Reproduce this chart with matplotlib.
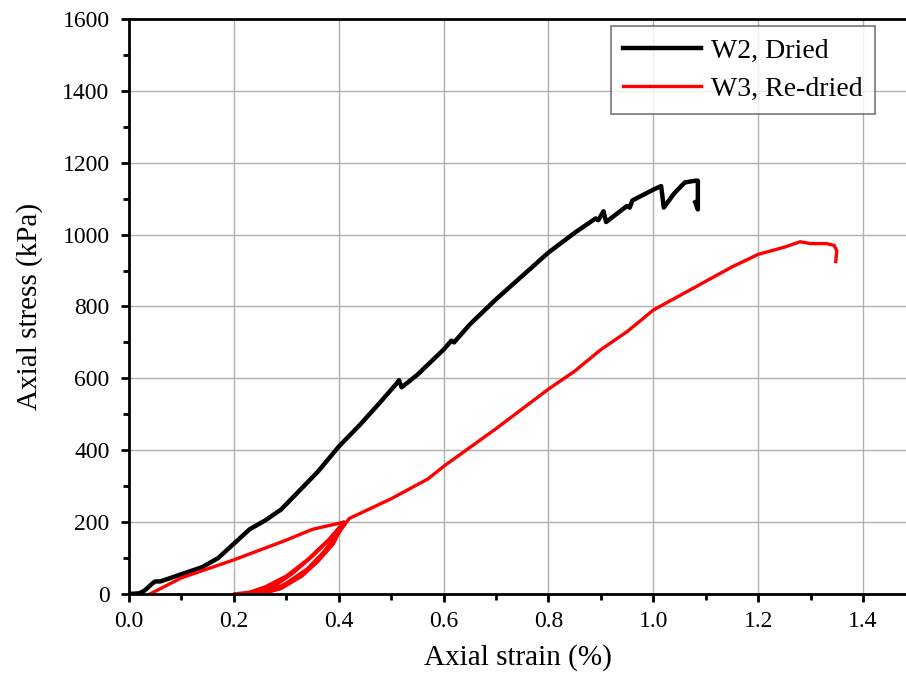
import numpy as np
import matplotlib.pyplot as plt
from matplotlib.ticker import MultipleLocator

plt.rcParams['font.family'] = ['Liberation Serif', 'DejaVu Serif']

# W2, Dried : axial strain (%) vs axial stress (kPa)
w2_strain = [0.0, 0.02, 0.03, 0.045, 0.05, 0.06, 0.08, 0.10, 0.14, 0.17, 0.20, 0.23,
             0.26, 0.29, 0.32, 0.36, 0.40, 0.44, 0.48, 0.51, 0.515, 0.52, 0.55, 0.60,
             0.615, 0.62, 0.65, 0.70, 0.75, 0.80, 0.85, 0.89, 0.895, 0.905, 0.91, 0.95,
             0.955, 0.96, 1.00, 1.015, 1.02, 1.04, 1.06, 1.08, 1.085, 1.085, 1.08]
w2_stress = [0, 2, 10, 30, 35, 35, 45, 55, 75, 100, 140, 180,
             205, 235, 280, 340, 410, 470, 535, 585, 595, 575, 610, 680,
             705, 700, 750, 820, 885, 950, 1005, 1045, 1040, 1065, 1035, 1080,
             1075, 1095, 1125, 1135, 1075, 1115, 1145, 1150, 1150, 1070, 1090]

# W3, Re-dried : loading, two unload/reload loops, then loading to failure
w3_strain = [0.04, 0.10, 0.20, 0.30, 0.35, 0.38, 0.41,
             0.38, 0.34, 0.30, 0.26, 0.23, 0.20,
             0.26, 0.29, 0.33, 0.36, 0.39, 0.41,
             0.385, 0.35, 0.31, 0.28, 0.255, 0.24,
             0.27, 0.30, 0.34, 0.37, 0.40, 0.42,
             0.50, 0.57, 0.60, 0.70, 0.80, 0.85, 0.90, 0.95, 1.00, 1.05, 1.10,
             1.15, 1.20, 1.25, 1.28, 1.30, 1.33, 1.345, 1.35, 1.348]
w3_stress = [0, 45, 95, 150, 180, 190, 200,
             150, 95, 50, 20, 5, 0,
             3, 15, 50, 90, 140, 200,
             155, 105, 55, 25, 8, 0,
             8, 30, 70, 115, 170, 210,
             265, 320, 355, 460, 570, 620, 680, 730, 790, 830, 870,
             910, 945, 965, 980, 975, 975, 970, 955, 925]

fig = plt.figure(figsize=(9.06, 6.77), dpi=100)
ax = fig.add_axes([0.1424, 0.1226, 0.8576, 0.8494])

ax.plot(w2_strain, w2_stress, color='black', lw=3.2, label='W2, Dried')
ax.plot(w3_strain, w3_stress, color='red', lw=2.4, label='W3, Re-dried')

ax.set_xlim(0, 1.482)
ax.set_ylim(0, 1600)
ax.xaxis.set_major_locator(MultipleLocator(0.2))
ax.xaxis.set_minor_locator(MultipleLocator(0.1))
ax.yaxis.set_major_locator(MultipleLocator(200))
ax.yaxis.set_minor_locator(MultipleLocator(100))
ax.xaxis.set_major_formatter(plt.FuncFormatter(lambda v, p: f'{v:.1f}'))

ax.grid(True, which='major', color='#b0b0b0', lw=1)
ax.set_axisbelow(True)
for s in ax.spines.values():
    s.set_linewidth(2)
ax.spines['right'].set_visible(False)
ax.tick_params(which='major', direction='out', length=6, width=2, labelsize=17, pad=8)
ax.tick_params(axis='x', which='major', pad=6)
ax.tick_params(which='minor', direction='out', length=4, width=2)

ax.set_xlabel('Axial strain (%)', fontsize=21, labelpad=9)
ax.set_ylabel('Axial stress (kPa)', fontsize=21, labelpad=14)

leg = ax.legend(loc='upper right', bbox_to_anchor=(0.96, 0.988), borderaxespad=0,
                fancybox=False, edgecolor='#555555', fontsize=20, handlelength=2.8,
                borderpad=0.45, handletextpad=0.35, labelspacing=0.45)
leg.get_frame().set_linewidth(1.2)

fig.savefig('out.png', dpi=100)
